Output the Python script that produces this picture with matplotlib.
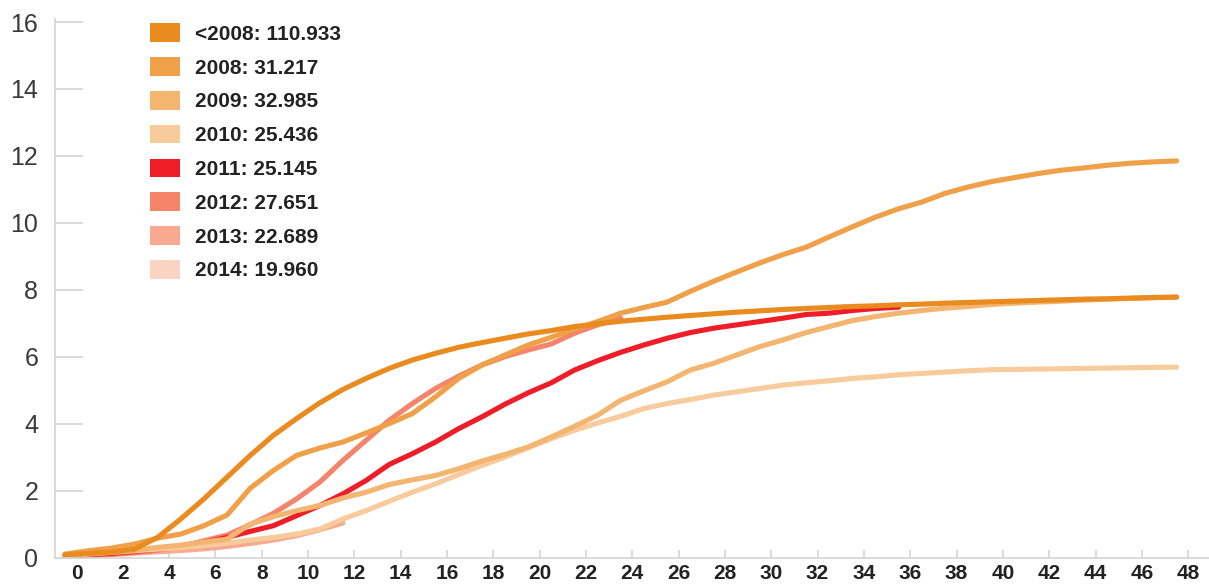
import numpy as np
import matplotlib
matplotlib.use("Agg")
import matplotlib.pyplot as plt
from matplotlib.patches import Patch

# months since start; curves are plotted half a month to the left of the tick
months = np.arange(49)

lt2008 = [0.08, 0.12, 0.16, 0.25, 0.6, 1.15, 1.75, 2.4, 3.05, 3.65, 4.15, 4.62, 5.02,
          5.35, 5.65, 5.9, 6.1, 6.28, 6.42, 6.55, 6.68, 6.78, 6.9, 6.98, 7.06, 7.12,
          7.18, 7.23, 7.28, 7.33, 7.37, 7.41, 7.44, 7.47, 7.5, 7.52, 7.55, 7.57, 7.6,
          7.62, 7.64, 7.66, 7.68, 7.7, 7.72, 7.73, 7.75, 7.77, 7.78]
y2008 = [0.1, 0.2, 0.28, 0.4, 0.58, 0.7, 0.95, 1.27, 2.07, 2.6, 3.05, 3.27, 3.45,
         3.72, 4.0, 4.3, 4.8, 5.35, 5.75, 6.05, 6.35, 6.58, 6.82, 7.05, 7.3, 7.47,
         7.63, 7.95, 8.25, 8.53, 8.8, 9.05, 9.27, 9.58, 9.88, 10.17, 10.42, 10.62,
         10.88, 11.07, 11.23, 11.35, 11.47, 11.57, 11.64, 11.72, 11.78, 11.82, 11.85]
y2009 = [0.05, 0.12, 0.17, 0.22, 0.3, 0.37, 0.46, 0.55, 1.0, 1.22, 1.4, 1.55, 1.78,
         1.95, 2.18, 2.32, 2.45, 2.65, 2.88, 3.08, 3.3, 3.6, 3.92, 4.25, 4.7, 4.98,
         5.25, 5.6, 5.8, 6.05, 6.3, 6.5, 6.72, 6.9, 7.08, 7.2, 7.3, 7.38, 7.45, 7.5,
         7.56, 7.6, 7.63, 7.66, 7.69, 7.72, 7.74, 7.76, 7.78]
y2010 = [0.05, 0.1, 0.15, 0.2, 0.25, 0.3, 0.36, 0.43, 0.52, 0.6, 0.7, 0.85, 1.15,
         1.4, 1.68, 1.95, 2.2, 2.48, 2.75, 3.0, 3.28, 3.55, 3.8, 4.02, 4.22, 4.45,
         4.6, 4.72, 4.85, 4.95, 5.05, 5.15, 5.22, 5.28, 5.35, 5.4, 5.46, 5.5, 5.54,
         5.58, 5.61, 5.62, 5.63, 5.64, 5.65, 5.66, 5.67, 5.68, 5.69]
y2011 = [0.05, 0.08, 0.12, 0.18, 0.25, 0.35, 0.45, 0.6, 0.78, 0.95, 1.25, 1.55, 1.9,
         2.3, 2.78, 3.1, 3.45, 3.85, 4.2, 4.58, 4.92, 5.22, 5.6, 5.88, 6.13, 6.35,
         6.55, 6.72, 6.85, 6.95, 7.05, 7.15, 7.26, 7.3, 7.38, 7.44, 7.48]
y2012 = [0.05, 0.08, 0.1, 0.15, 0.22, 0.33, 0.5, 0.67, 0.98, 1.32, 1.75, 2.25, 2.9,
         3.5, 4.1, 4.6, 5.05, 5.42, 5.75, 6.0, 6.2, 6.38, 6.7, 6.95, 7.15]
y2013 = [0.05, 0.08, 0.1, 0.13, 0.17, 0.21, 0.26, 0.33, 0.42, 0.52, 0.65, 0.83, 1.03]
y2014 = [0.03, 0.06, 0.09, 0.12]

series = [lt2008, y2008, y2009, y2010, y2011, y2012, y2013, y2014]
labels = ["<2008: 110.933", "2008: 31.217", "2009: 32.985", "2010: 25.436",
          "2011: 25.145", "2012: 27.651", "2013: 22.689", "2014: 19.960"]
colors = ["#E98B1F", "#EFA048", "#F3B570", "#F8CB9C",
          "#EE1D27", "#F4846A", "#F8A98F", "#FBD3C2"]

fig = plt.figure(figsize=(12.09, 5.88), dpi=100)
ax = fig.add_axes([55/1209, 30.5/588, 1 - 55/1209, (557.5 - 19)/588])

for vals, c in reversed(list(zip(series, colors))):
    ax.plot(months[:len(vals)] - 0.5, vals, color=c, lw=3.7,
            solid_capstyle="round", solid_joinstyle="round")

ax.set_xlim(-0.93, 48.9)
ax.set_ylim(0, 16 * (557.5 - 19) / (557.5 - 22))
ax.set_xticks(np.arange(0, 49, 2))
ax.set_yticks(np.arange(0, 17, 2))

for s in ["top", "right"]:
    ax.spines[s].set_visible(False)
for s in ["left", "bottom"]:
    ax.spines[s].set_color("#d4d4d4")
    ax.spines[s].set_linewidth(1.2)

ax.tick_params(axis="y", direction="in", length=20, width=1.2, color="#d4d4d4",
               labelsize=18, labelcolor="#3a3a3a", pad=12)
ax.tick_params(axis="x", direction="in", length=6, width=1.2, color="#d4d4d4",
               labelsize=15, labelcolor="#222222", pad=5)
for t in ax.get_xticklabels():
    t.set_fontfamily(["Liberation Sans", "DejaVu Sans"])
    t.set_fontweight("bold")
for t in ax.get_yticklabels():
    t.set_fontfamily(["Liberation Sans", "DejaVu Sans"])

handles = [Patch(facecolor=c, edgecolor="none") for c in colors]
leg = ax.legend(handles, labels, loc="upper left", bbox_to_anchor=(140/1209, 1 - 13/588),
                bbox_transform=fig.transFigure, frameon=False, borderpad=0,
                handlelength=1.4, handleheight=1.0, handletextpad=0.75,
                labelspacing=0.64, prop={"family": ["Liberation Sans", "DejaVu Sans"],
                                         "weight": "bold", "size": 15})
for t in leg.get_texts():
    t.set_color("#222222")

fig.savefig("out.png", dpi=100)
